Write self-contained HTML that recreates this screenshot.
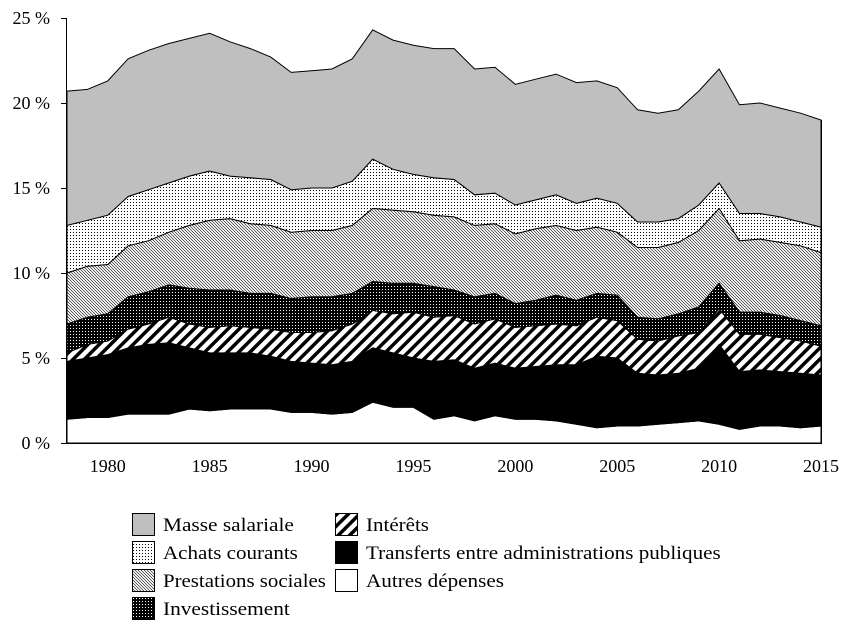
<!DOCTYPE html>
<html><head><meta charset="utf-8"><style>
body{margin:0;background:#fff;}
svg{display:block;font-family:"Liberation Serif",serif;}
</style></head><body>
<svg id="chart" width="854" height="626" viewBox="0 0 854 626">
<defs>
<pattern id="pDots" width="3" height="3" patternUnits="userSpaceOnUse"><rect width="3" height="3" fill="#fff"/><rect x="1" y="1" width="1" height="1" fill="#000"/></pattern>
<pattern id="pPrest" width="3" height="3" patternUnits="userSpaceOnUse"><rect width="3" height="3" fill="#fff"/><path d="M0,0L3,3M-1,2L1,4M2,-1L4,1" stroke="#000" stroke-width="0.6"/></pattern>
<pattern id="pInv" width="3" height="3" patternUnits="userSpaceOnUse"><rect width="3" height="3" fill="#000"/><rect x="1" y="1" width="1" height="1" fill="#fff"/></pattern>
<pattern id="pInt" width="8" height="8" patternUnits="userSpaceOnUse" patternTransform="rotate(45)"><rect width="8" height="8" fill="#fff"/><rect x="0" y="0" width="3.5" height="8" fill="#000"/></pattern>
</defs>
<g id="areas"></g>
<g id="axes"></g>
<g id="legend"></g>
</svg>
<script>
const years=[];for(let y=1978;y<=2015;y++)years.push(y);
const autres=[1.4,1.5,1.5,1.7,1.7,1.7,2.0,1.9,2.0,2.0,2.0,1.8,1.8,1.7,1.8,2.4,2.1,2.1,1.4,1.6,1.3,1.6,1.4,1.4,1.3,1.1,0.9,1.0,1.0,1.1,1.2,1.3,1.1,0.8,1.0,1.0,0.9,1.0];
const topTransferts=[4.8,5.0,5.2,5.6,5.8,5.9,5.6,5.3,5.3,5.3,5.1,4.8,4.7,4.6,4.8,5.6,5.3,5.0,4.8,4.9,4.4,4.7,4.4,4.5,4.6,4.6,5.1,5.0,4.1,4.0,4.1,4.4,5.8,4.2,4.3,4.2,4.1,4.0];
const topInterets=[5.3,5.8,6.0,6.7,7.0,7.4,7.0,6.8,6.9,6.8,6.7,6.5,6.5,6.6,7.0,7.8,7.6,7.7,7.4,7.5,7.0,7.3,6.8,6.9,7.0,6.9,7.4,7.2,6.1,6.0,6.3,6.5,7.9,6.4,6.4,6.2,6.0,5.7];
const topInvest=[7.0,7.4,7.6,8.6,8.9,9.3,9.1,9.0,9.0,8.8,8.8,8.5,8.6,8.6,8.8,9.5,9.4,9.4,9.2,9.0,8.6,8.8,8.2,8.4,8.7,8.4,8.8,8.7,7.4,7.3,7.6,8.0,9.4,7.7,7.7,7.5,7.2,6.9];
const topPrest=[10.0,10.4,10.5,11.6,11.9,12.4,12.8,13.1,13.2,12.9,12.8,12.4,12.5,12.5,12.8,13.8,13.7,13.6,13.4,13.3,12.8,12.9,12.3,12.6,12.8,12.5,12.7,12.4,11.5,11.5,11.8,12.5,13.8,11.9,12.0,11.8,11.6,11.2];
const topAchats=[12.8,13.1,13.4,14.5,14.9,15.3,15.7,16.0,15.7,15.6,15.5,14.9,15.0,15.0,15.4,16.7,16.1,15.8,15.6,15.5,14.6,14.7,14.0,14.3,14.6,14.1,14.4,14.1,13.0,13.0,13.2,14.0,15.3,13.5,13.5,13.3,13.0,12.7];
const topMasse=[20.7,20.8,21.3,22.6,23.1,23.5,23.8,24.1,23.6,23.2,22.7,21.8,21.9,22.0,22.6,24.3,23.7,23.4,23.2,23.2,22.0,22.1,21.1,21.4,21.7,21.2,21.3,20.9,19.6,19.4,19.6,20.7,22.0,19.9,20.0,19.7,19.4,19.0];
const yTicks=[0,5,10,15,20,25];
const xTicks=[1980,1985,1990,1995,2000,2005,2010,2015];

const NS="http://www.w3.org/2000/svg";
const X=y=>67+(y-1978)*(821-67)/37;
const Y=v=>443-v*17;
function mk(tag,attrs,parent){const e=document.createElementNS(NS,tag);for(const k in attrs)e.setAttribute(k,attrs[k]);parent.appendChild(e);return e;}
function fitWidth(t,x,w){const n=t.getComputedTextLength();if(n>0){const s=w/n;t.setAttribute('transform','translate('+x+',0) scale('+s+',1) translate('+(-x)+',0)');}}
const zeros=years.map(()=>0);
const layers=[
 ["area-autres-depenses",zeros,autres,"#fff"],
 ["area-transferts",autres,topTransferts,"#000"],
 ["area-interets",topTransferts,topInterets,"url(#pInt)"],
 ["area-investissement",topInterets,topInvest,"url(#pInv)"],
 ["area-prestations-sociales",topInvest,topPrest,"url(#pPrest)"],
 ["area-achats-courants",topPrest,topAchats,"url(#pDots)"],
 ["area-masse-salariale",topAchats,topMasse,"#bfbfbf"]];
const ga=document.getElementById('areas');
layers.forEach(([name,lo,hi,fill])=>{
 let d="M"+years.map((y,i)=>X(y)+","+Y(hi[i])).join("L");
 d+="L"+years.map((y,i)=>X(y)+","+Y(lo[i])).reverse().join("L")+"Z";
 const p=mk('path',{d:d,fill:fill,stroke:"#000","stroke-width":"1"},ga);
 
 
});
const gx=document.getElementById('axes');
const yl=mk('line',{x1:66.5,y1:18,x2:66.5,y2:443.5,stroke:"#000"},gx);


const xl=mk('line',{x1:61,y1:443.5,x2:822,y2:443.5,stroke:"#000"},gx);


mk('line',{x1:821.5,y1:Y(topMasse[37]),x2:821.5,y2:443.5,stroke:"#000"},gx);
yTicks.forEach(v=>{
 mk('line',{x1:61,y1:Y(v)+0.5,x2:66.5,y2:Y(v)+0.5,stroke:"#000"},gx);
 const t=mk('text',{x:50,y:Y(v)+6,"text-anchor":"end","font-size":"18"},gx);
 t.textContent=v+" %";
 
 
});
xTicks.forEach(y=>{
 const t=mk('text',{x:X(y),y:472,"text-anchor":"middle","font-size":"18"},gx);
 t.textContent=y;
 
 
});
const legendItems=[["Masse salariale","#bfbfbf",132,513,131],["Achats courants","url(#pDots)",132,541,135],["Prestations sociales","url(#pPrest)",132,569,163],["Investissement","url(#pInv)",132,597,127],["Intérêts","url(#pInt)",335,513,63],["Transferts entre administrations publiques","#000",335,541,355],["Autres dépenses","#fff",335,569,138]];
const gl=document.getElementById('legend');
legendItems.forEach(([label,fill,x,y,w])=>{
 const g=mk('g',{},gl);
 
 
 mk('rect',{x:x+0.5,y:y+0.5,width:22,height:22,fill:fill,stroke:"#000"},g);
 const t=mk('text',{x:x+31,y:y+18,"font-size":"19"},g);
 t.textContent=label;
 fitWidth(t,x+31,w);
});
</script>
</body></html>
